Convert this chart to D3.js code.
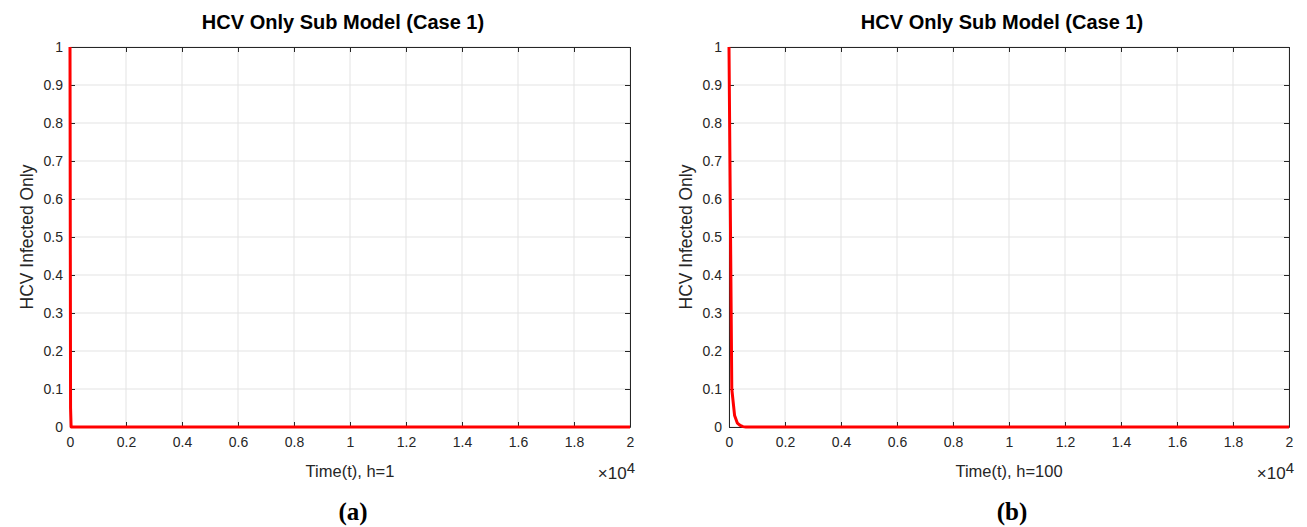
<!DOCTYPE html>
<html>
<head>
<meta charset="utf-8">
<script src="https://cdn.jsdelivr.net/npm/d3@7"></script>
<style>
  body { margin: 0; background: #fff; }
  text { font-family: Arial, "Liberation Sans", sans-serif; }
</style>
</head>
<body>
<div id="chart"></div>
<script>
// data
var titles = ["HCV Only Sub Model (Case 1)", "HCV Only Sub Model (Case 1)"]
var xLabels = ["Time(t), h=1", "Time(t), h=100"]
var panelTags = ["(a)", "(b)"]
var yLabel = "HCV Infected Only"

var timeA = [0, 20, 40, 20000]
var valA = [1, 0.05, 0, 0]

var timeB = [0, 100, 200, 300, 400, 500, 600, 20000]
var valB = [1, 0.1, 0.03, 0.01, 0.004, 0.001, 0, 0]

var xTicks = [0, 2000, 4000, 6000, 8000, 10000, 12000, 14000, 16000, 18000, 20000]
var yTicks = [0, 0.1, 0.2, 0.3, 0.4, 0.5, 0.6, 0.7, 0.8, 0.9, 1]

var width = 1307
var height = 527

var svg = d3.select("#chart")
  .append("svg")
    .attr("width", width)
    .attr("height", height)

var panels = [
  {left: 70, right: 630, top: 47, bottom: 427, t: timeA, v: valA},
  {left: 729, right: 1289, top: 47, bottom: 427, t: timeB, v: valB}
]

panels.forEach(function(p, i){
  draw_panel(p, i)
})

function draw_panel(p, i){
  var x = d3.scaleLinear().domain([0, 20000]).range([p.left, p.right])
  var y = d3.scaleLinear().domain([0, 1]).range([p.bottom, p.top])
  var g = svg.append("g")

  // grid
  g.selectAll(".gx").data(xTicks).enter().append("line")
    .attr("x1", d => x(d)).attr("x2", d => x(d))
    .attr("y1", p.top).attr("y2", p.bottom)
    .attr("stroke", "#e3e3e3").attr("stroke-width", 1)
  g.selectAll(".gy").data(yTicks).enter().append("line")
    .attr("x1", p.left).attr("x2", p.right)
    .attr("y1", d => y(d)).attr("y2", d => y(d))
    .attr("stroke", "#e3e3e3").attr("stroke-width", 1)

  // axes with inward ticks
  var ax = g.append("g").attr("transform", "translate(0," + p.bottom + ")")
    .call(d3.axisBottom(x).tickValues(xTicks).tickSizeInner(-5).tickSizeOuter(0)
      .tickPadding(10).tickFormat(d => d3.format("~g")(d / 10000)))
  var axT = g.append("g").attr("transform", "translate(0," + p.top + ")")
    .call(d3.axisTop(x).tickValues(xTicks).tickSizeInner(-5).tickSizeOuter(0).tickFormat(""))
  var ay = g.append("g").attr("transform", "translate(" + p.left + ",0)")
    .call(d3.axisLeft(y).tickValues(yTicks).tickSizeInner(-5).tickSizeOuter(0)
      .tickPadding(7).tickFormat(d3.format("~g")))
  var ayR = g.append("g").attr("transform", "translate(" + p.right + ",0)")
    .call(d3.axisRight(y).tickValues(yTicks).tickSizeInner(-5).tickSizeOuter(0).tickFormat(""))

  ;[ax, axT, ay, ayR].forEach(function(a){
    a.selectAll("path").attr("stroke", "#262626").attr("stroke-width", 1)
    a.selectAll("line").attr("stroke", "#262626").attr("stroke-width", 1)
    a.selectAll("text").attr("fill", "#262626")
      .style("font-family", "Arial, 'Liberation Sans', sans-serif").style("font-size", "14px")
  })

  // curve
  var line = d3.line().x((d, k) => x(p.t[k])).y(d => y(d))
  g.append("path")
    .datum(p.v)
    .attr("d", line)
    .attr("fill", "none")
    .attr("stroke", "#ff0000")
    .attr("stroke-width", 3)
    .attr("stroke-linejoin", "round")

  var cx = (p.left + p.right) / 2
  g.append("text").text(titles[i])
    .attr("x", cx - 7).attr("y", 29)
    .attr("text-anchor", "middle")
    .style("font-weight", "bold").style("font-size", "20px").attr("fill", "#000")

  g.append("text").text(xLabels[i])
    .attr("x", cx).attr("y", 477)
    .attr("text-anchor", "middle")
    .style("font-size", "16.5px").attr("fill", "#262626")

  var ex = g.append("text").attr("x", p.right + 5).attr("y", 479)
    .attr("text-anchor", "end").attr("fill", "#262626")
  ex.append("tspan").text("\u00d7").style("font-size", "17px")
  ex.append("tspan").text("10").style("font-size", "17px")
  ex.append("tspan").text("4").attr("dy", -6).style("font-size", "15px")

  g.append("text").text(yLabel)
    .attr("transform", "translate(" + (p.left - 37) + "," + ((p.top + p.bottom) / 2) + ") rotate(-90)")
    .attr("text-anchor", "middle")
    .style("font-size", "17.5px").attr("fill", "#262626")

  g.append("text").text(panelTags[i])
    .attr("x", cx + 3).attr("y", 520)
    .attr("text-anchor", "middle")
    .style("font-family", "'Liberation Serif', 'Times New Roman', serif")
    .style("font-weight", "bold").style("font-size", "25px").attr("fill", "#000")
}
</script>
</body>
</html>
